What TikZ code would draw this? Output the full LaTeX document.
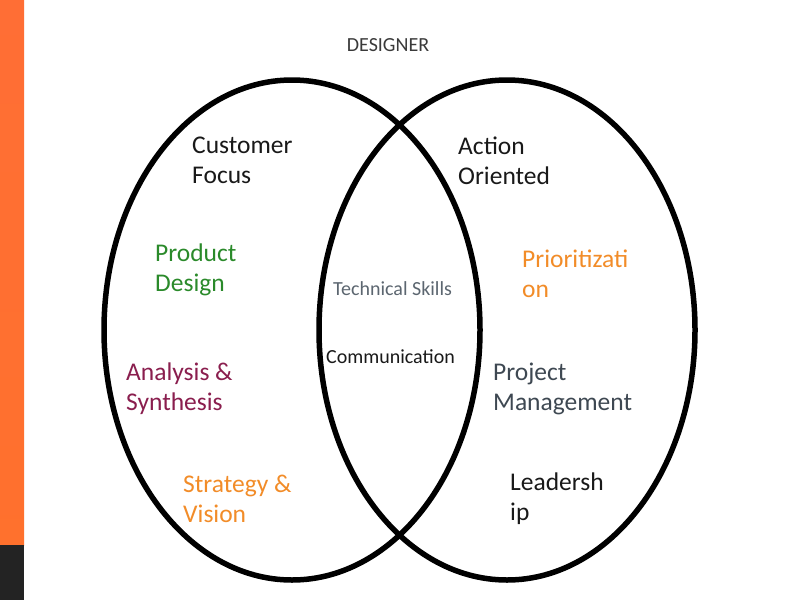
\documentclass[tikz,border=0pt]{standalone}
\usepackage{fontspec}
\setmainfont{Carlito}
\begin{document}
\begin{tikzpicture}[x=1pt,y=-1pt,
  lbl/.style={anchor=west,align=left,inner sep=0pt,font=\fontsize{25.5}{30}\selectfont},
  sml/.style={anchor=west,align=left,inner sep=0pt,font=\fontsize{20}{24}\selectfont},
  ring/.style={draw=black,line width=5.5pt}]
\definecolor{barorange}{HTML}{FF6E35}
\definecolor{bardark}{HTML}{232323}
\definecolor{cgreen}{HTML}{2A8A2A}
\definecolor{corange}{HTML}{F28C28}
\definecolor{cmaroon}{HTML}{8A1E4E}
\definecolor{cslate}{HTML}{3E4852}
\definecolor{cgray}{HTML}{5C6670}
\definecolor{ctitle}{HTML}{3A3A3A}
\useasboundingbox (0,0) rectangle (800,600);
\fill[white] (0,0) rectangle (800,600);
\shade[top color=barorange, bottom color={barorange!85!orange}] (0,0) rectangle (24,545);
\fill[bardark] (0,545) rectangle (24,600);
\draw[ring] (292,330) ellipse [x radius=188, y radius=250];
\draw[ring] (507,330) ellipse [x radius=188, y radius=250];
\node[sml,anchor=center,text=ctitle,font=\fontsize{20}{24}\selectfont] (title) at (388,45) {DESIGNER};
\node[lbl,text=black!90] (cust) at (192,160.5) {Customer\\Focus};
\node[lbl,text=black!90] (act) at (458,160.5) {Action\\Oriented};
\node[lbl,text=cgreen] (prod) at (155,270) {Product\\Design};
\node[lbl,text=corange] (prio) at (522,274) {Prioritizati\\on};
\node[sml,text=cgray] (tech) at (333,289) {Technical Skills};
\node[sml,text=black!90] (comm) at (326,357) {Communication};
\node[lbl,text=cmaroon] (anal) at (126,389) {Analysis \&\\Synthesis};
\node[lbl,text=cslate] (proj) at (493,388.5) {Project\\Management};
\node[lbl,text=corange] (strat) at (183,499) {Strategy \&\\Vision};
\node[lbl,text=black!90] (lead) at (510,498.5) {Leadersh\\ip};
\end{tikzpicture}
\end{document}
